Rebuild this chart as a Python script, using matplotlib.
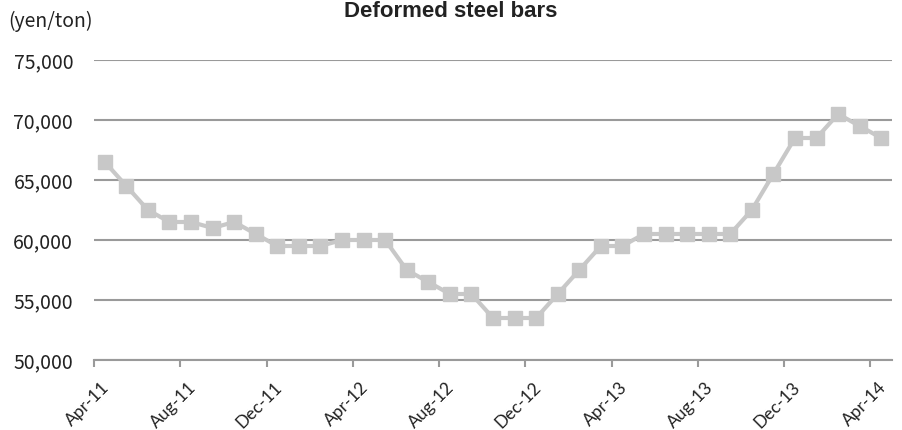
import matplotlib
matplotlib.use("Agg")
import matplotlib.pyplot as plt
from matplotlib.transforms import ScaledTranslation
import numpy as np

months = ["Apr-11","May-11","Jun-11","Jul-11","Aug-11","Sep-11","Oct-11","Nov-11","Dec-11",
          "Jan-12","Feb-12","Mar-12","Apr-12","May-12","Jun-12","Jul-12","Aug-12","Sep-12",
          "Oct-12","Nov-12","Dec-12","Jan-13","Feb-13","Mar-13","Apr-13","May-13","Jun-13",
          "Jul-13","Aug-13","Sep-13","Oct-13","Nov-13","Dec-13","Jan-14","Feb-14","Mar-14","Apr-14"]
prices = [66500, 64500, 62500, 61500, 61500, 61000, 61500, 60500, 59500,
          59500, 59500, 60000, 60000, 60000, 57500, 56500, 55500, 55500,
          53500, 53500, 53500, 55500, 57500, 59500, 59500, 60500, 60500,
          60500, 60500, 60500, 62500, 65500, 68500, 68500, 70500, 69500, 68500]
tick_labels = ["Apr-11","Aug-11","Dec-11","Apr-12","Aug-12","Dec-12","Apr-13","Aug-13","Dec-13","Apr-14"]
yticks = [50000, 55000, 60000, 65000, 70000, 75000]

fig = plt.figure(figsize=(9.02, 4.30), dpi=100)
ax = fig.add_axes([94/902, 1-360/430, (892-94)/902, 300/430])

x = np.arange(len(prices)) + 0.5
ax.plot(x, prices, color="#c8c8c8", lw=3, marker="s", ms=10.5, mfc="#c8c8c8", mec="#c8c8c8", zorder=3)

ax.set_xlim(0, len(prices))
ax.set_ylim(50000, 75000)
ax.set_yticks(yticks)
ax.set_yticklabels([f"{v:,}" for v in yticks], fontsize=14, family=["Noto Sans CJK JP", "DejaVu Sans"], color="#222222")
ax.yaxis.grid(True, color="#9a9a9a", lw=1.5)
ax.set_axisbelow(True)
ax.tick_params(axis="y", length=0, pad=15)

tick_pos = [months.index(t) for t in tick_labels]
ax.set_xticks(tick_pos)
ax.set_xticklabels(tick_labels, rotation=45, ha="right", va="center", rotation_mode="anchor",
                   fontsize=12.5, family=["Lato", "DejaVu Sans"], color="#222222")
ax.tick_params(axis="x", length=5, width=1.5, color="#9a9a9a", pad=13)
for lab in ax.get_xticklabels():
    lab.set_transform(lab.get_transform() + ScaledTranslation(13/100, 0, fig.dpi_scale_trans))

for s in ["top", "right", "left"]:
    ax.spines[s].set_visible(False)
ax.spines["bottom"].set_color("#9a9a9a")
ax.spines["bottom"].set_linewidth(1.5)

fig.text(8/902, 1-21/430, "(yen/ton)", fontsize=14, family=["Noto Sans CJK JP", "DejaVu Sans"],
         va="center", ha="left", color="#222222")
fig.text(451/902, 1-17/430, "Deformed steel bars", fontsize=16, fontweight="bold",
         family="Liberation Sans", va="baseline", ha="center", color="#222222")

fig.savefig("out.png", dpi=100)
